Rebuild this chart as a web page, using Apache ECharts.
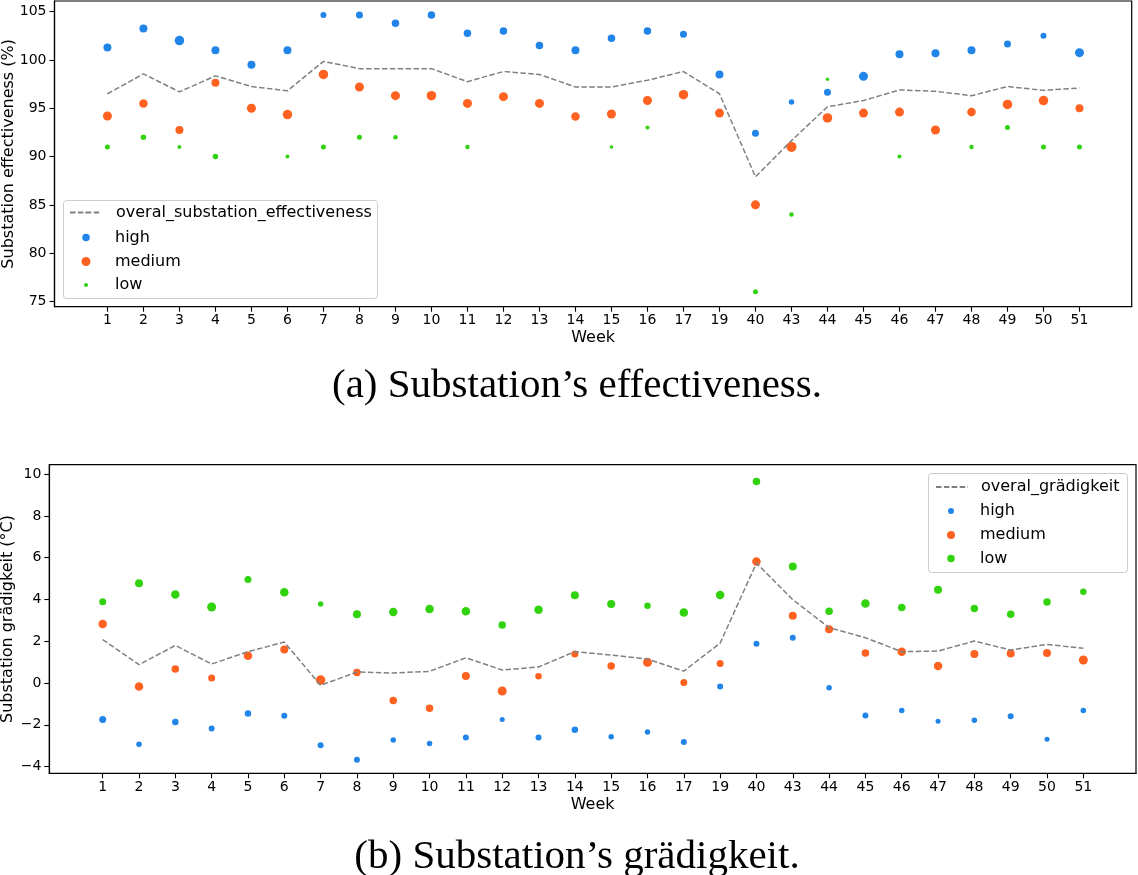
<!DOCTYPE html>
<html>
<head>
<meta charset="utf-8">
<script src="https://cdn.jsdelivr.net/npm/echarts@6/dist/echarts.min.js"></script>
<style>html,body{margin:0;padding:0;background:#fff;}#c{width:1138px;height:875px;}</style>
</head>
<body>
<div id="c"></div>
<script>
// ---- data ----
const weeks = ['1','2','3','4','5','6','7','8','9','10','11','12','13','14','15','16','17','19','40','43','44','45','46','47','48','49','50','51'];

// (a) Substation effectiveness (%)
const effOverall = [96.5,98.55,96.7,98.35,97.25,96.8,99.85,99.1,99.1,99.1,97.75,98.8,98.5,97.2,97.2,97.9,98.8,96.5,87.9,91.65,95.15,95.8,96.9,96.75,96.3,97.25,96.85,97.1];
const effHigh    = [101.3,103.25,102.0,101.0,99.5,101.0,104.65,104.65,103.8,104.65,102.75,103.0,101.5,101.0,102.25,103.0,102.65,98.5,92.4,95.65,96.65,98.3,100.6,100.7,101.0,101.65,102.5,100.75];
const effMedium  = [94.2,95.5,92.75,97.65,95.0,94.35,98.5,97.2,96.3,96.3,95.5,96.2,95.5,94.15,94.4,95.8,96.4,94.5,85.0,91.0,94.0,94.5,94.6,92.75,94.6,95.4,95.8,95.0];
const effLow     = [91,92,91,90,null,90,91,92,92,null,91,null,null,null,91,93,null,null,76,84,98,null,90,null,91,93,91,91];
const effHighSize   = [8,8,9.5,8,8,8,6,7,7.5,7.5,7.5,7.5,7.5,8,7.5,7.5,7,8,7,5.5,7,9,8,8,8,7,6,9];
const effMediumSize = [9,8.5,8,8,9,9.5,9.5,9,9,9.5,9,9,9,8.5,9,9,9.5,9,9,10,9.5,9,9,9,8.5,9.5,9.5,8];
const effLowSize    = [5,5.5,4,5.5,0,4,5,5,4.5,0,4.5,0,0,0,3.5,4,0,0,5,4.5,3.5,0,4,0,4.5,5,5,5];

// (b) Substation grädigkeit (°C)
const grdOverall = [2.08,0.88,1.8,0.91,1.5,1.96,-0.11,0.53,0.48,0.56,1.21,0.62,0.77,1.5,1.34,1.15,0.57,1.91,5.74,3.99,2.65,2.17,1.5,1.53,2.01,1.58,1.85,1.66];
const grdHigh    = [-1.75,-2.93,-1.87,-2.18,-1.46,-1.56,-2.98,-3.67,-2.73,-2.89,-2.61,-1.74,-2.61,-2.23,-2.57,-2.34,-2.82,-0.16,1.88,2.17,-0.22,-1.55,-1.31,-1.83,-1.78,-1.59,-2.69,-1.32];
const grdMedium  = [2.82,-0.17,0.67,0.24,1.31,1.61,0.14,0.5,-0.83,-1.21,0.34,-0.38,0.32,1.39,0.81,0.99,0.02,0.93,5.82,3.22,2.57,1.44,1.5,0.81,1.39,1.41,1.44,1.1];
const grdLow     = [3.89,4.78,4.24,3.64,4.95,4.34,3.78,3.29,3.4,3.54,3.44,2.78,3.51,4.2,3.78,3.7,3.38,4.21,9.65,5.58,3.44,3.81,3.61,4.47,3.57,3.29,3.88,4.37];
const grdHighSize   = [7,5.5,6.5,6,6.5,6,6,6,5.5,5.5,6,5,6,6.5,5.5,5.5,6,6,6,6,5.5,6,5.5,5,5.5,6,5,5.5];
const grdMediumSize = [8.5,8.5,7.5,7,8.5,8,9.5,7.5,7.5,7.5,8,9,6.5,7,7.5,9,7,7,8.5,8,8,7.5,8.5,8.5,8,8,8,9];
const grdLowSize    = [7,8,8.5,9,7,8.5,5.5,8,8.5,8.5,8.5,7.5,8.5,8,8,6.5,8.5,8.5,7.5,8,7.5,8.5,7.5,8,7.5,7.5,7.5,6.5];

const effTicks = [75,80,85,90,95,100,105];
const grdTicks = [-4,-2,0,2,4,6,8,10];

// ---- styling ----
const C_HIGH = '#2084E8', C_MED = '#FF6220', C_LOW = '#31D30E', C_LINE = '#808080';
const FONT = 'DejaVu Sans';
const tickIdx = weeks.map((w, i) => i);

function pts(vals, sizes) {
  const out = [];
  vals.forEach((v, i) => { if (v !== null) out.push({ value: [i, v], symbolSize: sizes[i] }); });
  return out;
}
function linePts(vals) { return vals.map((v, i) => [i, v]); }

function xAxis(gridIndex, gap) {
  return {
    type: 'value', gridIndex, min: -1.47, max: 28.45, position: 'bottom',
    name: 'Week', nameLocation: 'middle', nameGap: gap, nameMoveOverlap: false,
    nameTextStyle: { fontFamily: FONT, fontSize: 16, color: '#000' },
    axisLine: { show: true, onZero: false, lineStyle: { color: '#000', width: 1.2 } },
    axisTick: { show: true, customValues: tickIdx, length: 5, inside: false, lineStyle: { color: '#000', width: 1.1 } },
    axisLabel: { customValues: tickIdx, formatter: v => weeks[Math.round(v)], fontFamily: FONT, fontSize: 14, color: '#000', margin: 7 },
    splitLine: { show: false }
  };
}
function yAxis(gridIndex, min, max, ticks, name, gap) {
  return {
    type: 'value', gridIndex, min, max, position: 'left',
    name, nameLocation: 'middle', nameGap: gap, nameMoveOverlap: false,
    nameTextStyle: { fontFamily: FONT, fontSize: 16, color: '#000' },
    axisLine: { show: true, onZero: false, lineStyle: { color: '#000', width: 1.2 } },
    axisTick: { show: true, customValues: ticks, length: 5, inside: false, lineStyle: { color: '#000', width: 1.1 } },
    axisLabel: { customValues: ticks, formatter: v => (v < 0 ? '\u2212' + Math.abs(v) : String(v)), fontFamily: FONT, fontSize: 14, color: '#000', margin: 8 },
    splitLine: { show: false }
  };
}

function legendItem(name, left, rowY, w, h, padLeft) {
  return {
    data: [name], left, top: rowY - 10, orient: 'vertical', padding: 0,
    itemWidth: w, itemHeight: h, selectedMode: false,
    textStyle: { fontFamily: FONT, fontSize: 16, color: '#000', lineHeight: 20, padding: [0, 0, 0, padLeft] }
  };
}
function circleLegend(name, cx, rowY, d, textX) {
  return legendItem(name, cx - d / 2, rowY, d, d, textX - (cx + d / 2 + 5));
}

const chart = echarts.init(document.getElementById('c'), null, { renderer: 'canvas' });
chart.setOption({
  animation: false,
  backgroundColor: '#fff',
  title: [
    { text: '(a) Substation\u2019s effectiveness.', left: 572, top: 361, textAlign: 'center',
      textStyle: { fontFamily: 'Liberation Serif', fontWeight: 'normal', fontSize: 41, color: '#000' } },
    { text: '(b) Substation\u2019s gr\u00e4digkeit.', left: 572, top: 832, textAlign: 'center',
      textStyle: { fontFamily: 'Liberation Serif', fontWeight: 'normal', fontSize: 41, color: '#000' } }
  ],
  grid: [
    { left: 54.5, top: 1, width: 1077.2, height: 305.7, show: true, borderColor: '#000', borderWidth: 1.2, backgroundColor: 'transparent', containLabel: false, outerBoundsMode: 'none' },
    { left: 49.3, top: 464.7, width: 1086.7, height: 308.6, show: true, borderColor: '#000', borderWidth: 1.2, backgroundColor: 'transparent', containLabel: false, outerBoundsMode: 'none' }
  ],
  xAxis: [xAxis(0, 23), xAxis(1, 24)],
  yAxis: [
    yAxis(0, 74.46, 106.1, effTicks, 'Substation effectiveness (%)', 38),
    yAxis(1, -4.32, 10.45, grdTicks, 'Substation gr\u00e4digkeit (\u00b0C)', 33)
  ],
  graphic: [
    { type: 'rect', z: 3, shape: { x: 63.5, y: 200.5, width: 314, height: 98, r: 3 }, style: { fill: 'rgba(255,255,255,0.8)', stroke: '#cccccc', lineWidth: 1 } },
    { type: 'rect', z: 3, shape: { x: 928.5, y: 473.5, width: 199, height: 99, r: 3 }, style: { fill: 'rgba(255,255,255,0.8)', stroke: '#cccccc', lineWidth: 1 } }
  ],
  legend: [
    legendItem('overal_substation_effectiveness', 69, 212.5, 31, 1.5, 10),
    circleLegend('high', 86, 237.5, 7.5, 115),
    circleLegend('medium', 86, 261.5, 9, 115),
    circleLegend('low', 86, 285, 4, 115),
    legendItem('overal_gr\u00e4digkeit', 935, 487, 32, 1.5, 8),
    circleLegend('high ', 951, 511, 6, 980),
    circleLegend('medium ', 951, 535, 8, 980),
    circleLegend('low ', 951, 558.5, 7.5, 980)
  ],
  series: [
    { name: 'overal_substation_effectiveness', type: 'line', xAxisIndex: 0, yAxisIndex: 0, data: linePts(effOverall), symbol: 'none', z: 5,
      lineStyle: { color: C_LINE, width: 1.5, type: [5.5, 2.4] }, itemStyle: { color: C_LINE } },
    { name: 'high', type: 'scatter', xAxisIndex: 0, yAxisIndex: 0, data: pts(effHigh, effHighSize), itemStyle: { color: C_HIGH, opacity: 1 }, z: 2 },
    { name: 'medium', type: 'scatter', xAxisIndex: 0, yAxisIndex: 0, data: pts(effMedium, effMediumSize), itemStyle: { color: C_MED, opacity: 1 }, z: 2 },
    { name: 'low', type: 'scatter', xAxisIndex: 0, yAxisIndex: 0, data: pts(effLow, effLowSize), itemStyle: { color: C_LOW, opacity: 1 }, z: 2 },
    { name: 'overal_gr\u00e4digkeit', type: 'line', xAxisIndex: 1, yAxisIndex: 1, data: linePts(grdOverall), symbol: 'none', z: 5,
      lineStyle: { color: C_LINE, width: 1.5, type: [5.5, 2.4] }, itemStyle: { color: C_LINE } },
    { name: 'high ', type: 'scatter', xAxisIndex: 1, yAxisIndex: 1, data: pts(grdHigh, grdHighSize), itemStyle: { color: C_HIGH, opacity: 1 }, z: 2 },
    { name: 'medium ', type: 'scatter', xAxisIndex: 1, yAxisIndex: 1, data: pts(grdMedium, grdMediumSize), itemStyle: { color: C_MED, opacity: 1 }, z: 2 },
    { name: 'low ', type: 'scatter', xAxisIndex: 1, yAxisIndex: 1, data: pts(grdLow, grdLowSize), itemStyle: { color: C_LOW, opacity: 1 }, z: 2 }
  ]
});
</script>
</body>
</html>
